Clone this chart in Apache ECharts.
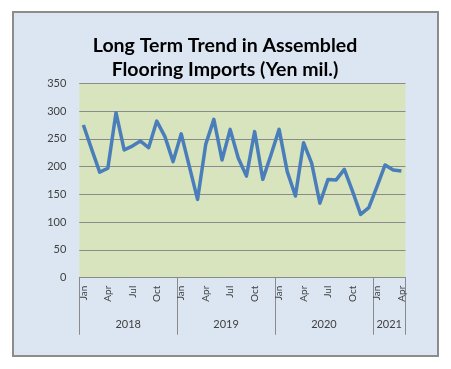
<!DOCTYPE html>
<html>
<head>
<meta charset="utf-8">
<script src="https://cdn.jsdelivr.net/npm/echarts@6/dist/echarts.min.js"></script>
<style>
html,body{margin:0;padding:0;background:#ffffff;}
#chart{width:451px;height:369px;}
</style>
</head>
<body>
<div id="chart"></div>
<script>
const categories = [
  'Jan 2018','Feb 2018','Mar 2018','Apr 2018','May 2018','Jun 2018','Jul 2018','Aug 2018','Sep 2018','Oct 2018','Nov 2018','Dec 2018',
  'Jan 2019','Feb 2019','Mar 2019','Apr 2019','May 2019','Jun 2019','Jul 2019','Aug 2019','Sep 2019','Oct 2019','Nov 2019','Dec 2019',
  'Jan 2020','Feb 2020','Mar 2020','Apr 2020','May 2020','Jun 2020','Jul 2020','Aug 2020','Sep 2020','Oct 2020','Nov 2020','Dec 2020',
  'Jan 2021','Feb 2021','Mar 2021','Apr 2021'
];
const imports = [
  275, 232, 190, 197, 297, 230, 237, 246, 234, 282, 254, 209,
  259, 200, 141, 240, 285, 212, 267, 215, 183, 263, 177, 221,
  267, 191, 147, 243, 206, 134, 177, 176, 195, 156, 114, 126,
  164, 203, 194, 192
];
const yearLabels = ['2018', '2019', '2020', '2021'];
const yearCenters = [6, 18, 30, 38];
const yearBoundaries = [0, 12, 24, 36, 40];
const yTicks = [0, 50, 100, 150, 200, 250, 300, 350];

const FONT = 'Lato, "Open Sans", sans-serif';
const chart = echarts.init(document.getElementById('chart'), null, {renderer: 'canvas'});
chart.setOption({
  animation: false,
  backgroundColor: '#ffffff',
  graphic: [{
    type: 'rect', z: -10, silent: true,
    shape: {x: 13, y: 12, width: 425, height: 344},
    style: {fill: '#dce6f2', stroke: '#8c8c8c', lineWidth: 2}
  }],
  title: {
    text: 'Long Term Trend in Assembled\nFlooring Imports (Yen mil.)',
    left: 220, top: 29, textAlign: 'center',
    textStyle: {fontFamily: FONT, fontSize: 19.5, fontWeight: 'bold', lineHeight: 24, color: '#000000'}
  },
  grid: {
    left: 79.3, right: 45.5, top: 83.3, bottom: 91.3,
    show: true, backgroundColor: '#d7e4bd', borderWidth: 0, containLabel: false,
    outerBoundsMode: 'none'
  },
  xAxis: [{
    type: 'category', data: categories, boundaryGap: true,
    axisLine: {show: true, lineStyle: {color: '#8a8a8a', width: 1}},
    axisTick: {show: false},
    axisLabel: {
      interval: function (i) { return i % 3 === 0; },
      rotate: 90, margin: 8, fontSize: 10, fontFamily: FONT, color: '#404040',
      formatter: function (v) { return v.split(' ')[0]; }
    },
    splitLine: {show: false}
  }, {
    type: 'value', min: 0, max: 40, position: 'bottom',
    axisLine: {show: false},
    splitLine: {show: false},
    axisTick: {show: true, customValues: yearBoundaries, length: 57, lineStyle: {color: '#8a8a8a', width: 1}},
    axisLabel: {
      customValues: yearCenters, margin: 41, fontSize: 11, fontFamily: FONT, color: '#404040',
      formatter: function (v) { return yearLabels[yearCenters.indexOf(v)]; }
    }
  }],
  yAxis: {
    type: 'value', min: yTicks[0], max: yTicks[yTicks.length - 1], interval: 50,
    axisLine: {show: false}, axisTick: {show: false},
    axisLabel: {margin: 13, fontSize: 11, fontFamily: FONT, color: '#404040'},
    splitLine: {show: true, lineStyle: {color: '#8a8a8a', width: 1}}
  },
  series: [{
    type: 'line', data: imports, xAxisIndex: 0,
    showSymbol: false, symbol: 'none',
    lineStyle: {color: '#4a7ebb', width: 3.5, join: 'round'}
  }]
});
</script>
</body>
</html>
